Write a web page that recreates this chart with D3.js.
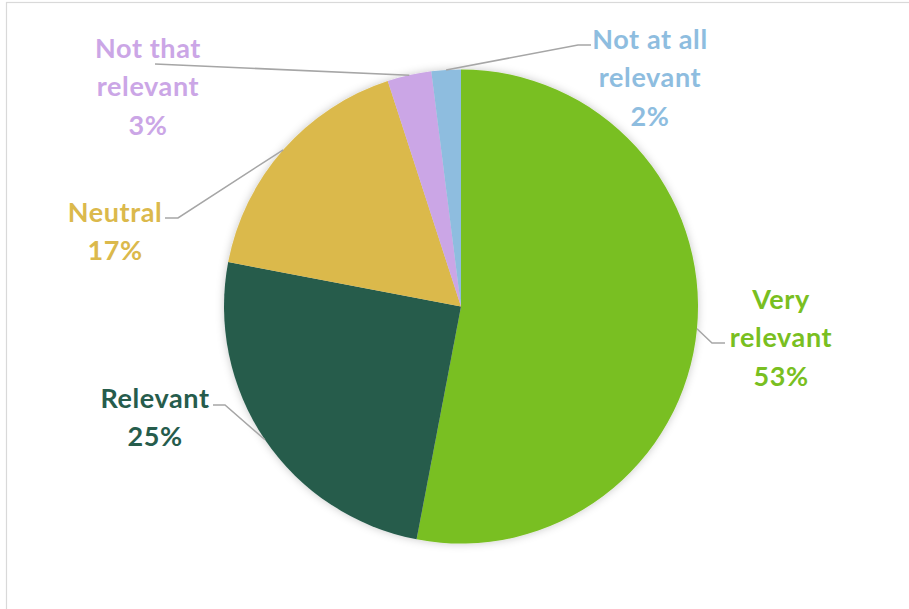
<!DOCTYPE html>
<html>
<head>
<meta charset="utf-8">
<script src="https://cdn.jsdelivr.net/npm/d3@7"></script>
<style>
  html, body { margin: 0; padding: 0; background: #fff; }
  svg { display: block; }
  text { font-family: Lato, "Open Sans", sans-serif; font-weight: 700; }
</style>
</head>
<body>
<svg id="chart" width="909" height="609"></svg>
<script>
// Survey answers and their shares (percent)
const categories = ["Very relevant", "Relevant", "Neutral", "Not that relevant", "Not at all relevant"];
const values = [53, 25, 17, 3, 2];
const colors = ["#79BF21", "#265C4C", "#DBB94C", "#CBA6E6", "#8EBDDF"];
// Label text lines (the last line is the percentage)
const labelLines = [
  ["Very", "relevant"],
  ["Relevant"],
  ["Neutral"],
  ["Not that", "relevant"],
  ["Not at all", "relevant"]
];

// Label placement: text centre (x, top line y) and leader-line bend / end points
const labelLayout = [
  { x: 781, y: 298, elbow: [712, 343], end: [725, 343] },
  { x: 155, y: 397, elbow: [225, 405], end: [213, 405] },
  { x: 115, y: 211, elbow: [178, 218], end: [165, 218] },
  { x: 148, y: 47,  elbow: [200, 66],  end: [155, 64] },
  { x: 650, y: 38,  elbow: [578, 45],  end: [591, 45] }
];

const width = 909, height = 609;
const cx = 461, cy = 306.5, radius = 237;
const lineGap = 38.5;

const svg = d3.select("#chart");

// Chart area frame
svg.append("rect")
  .attr("x", 6.5).attr("y", 2.5)
  .attr("width", width + 10).attr("height", height + 10)
  .attr("fill", "none").attr("stroke", "#d9d9d9").attr("stroke-width", 1.2);

// Soft glow around the pie
const defs = svg.append("defs");
const f = defs.append("filter").attr("id", "glow")
  .attr("x", "-10%").attr("y", "-10%").attr("width", "120%").attr("height", "120%");
f.append("feGaussianBlur").attr("in", "SourceAlpha").attr("stdDeviation", 4).attr("result", "b");
f.append("feFlood").attr("flood-color", "#000").attr("flood-opacity", 0.22);
f.append("feComposite").attr("in2", "b").attr("operator", "in").attr("result", "s");
const m = f.append("feMerge");
m.append("feMergeNode").attr("in", "s");
m.append("feMergeNode").attr("in", "SourceGraphic");

const data = categories.map((c, i) => ({ category: c, value: values[i], color: colors[i], lines: labelLines[i], layout: labelLayout[i] }));

const pie = d3.pie().value(d => d.value).sort(null);
const arc = d3.arc().innerRadius(0).outerRadius(radius);
const arcs = pie(data);

const g = svg.append("g").attr("transform", `translate(${cx},${cy})`);
g.append("g").attr("filter", "url(#glow)")
  .selectAll("path").data(arcs).join("path")
  .attr("d", arc)
  .attr("fill", d => d.data.color);

// Leader lines from the slice's outer edge to its label
const line = d3.line();
svg.append("g").selectAll("path").data(arcs).join("path")
  .attr("d", d => {
    const a = (d.startAngle + d.endAngle) / 2;
    const p0 = [cx + radius * Math.sin(a), cy - radius * Math.cos(a)];
    return line([p0, d.data.layout.elbow, d.data.layout.end]);
  })
  .attr("fill", "none").attr("stroke", "#a6a6a6").attr("stroke-width", 1.5);

// Labels: category lines followed by the percentage
const labels = svg.append("g").selectAll("text").data(arcs).join("text")
  .attr("text-anchor", "middle")
  .attr("font-size", 27)
  .attr("letter-spacing", 0.6)
  .attr("fill", d => d.data.color);

labels.each(function(d) {
  const t = d3.select(this);
  const rows = d.data.lines.concat([d.data.value + "%"]);
  rows.forEach((r, k) => {
    t.append("tspan")
      .attr("x", d.data.layout.x)
      .attr("y", d.data.layout.y + k * lineGap)
      .attr("dominant-baseline", "central")
      .text(r);
  });
});
</script>
</body>
</html>
